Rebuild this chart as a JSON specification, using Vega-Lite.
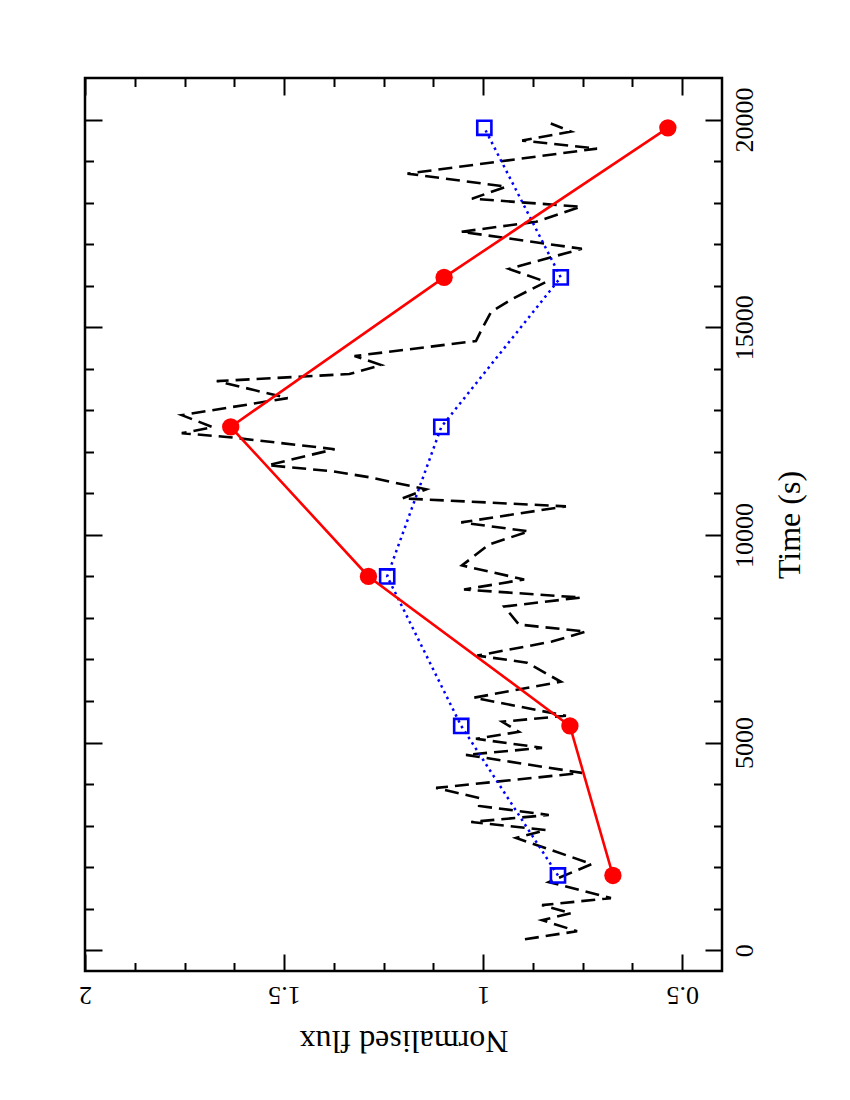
{
  "$schema": "https://vega.github.io/schema/vega-lite/v6.json",
  "width": 637,
  "height": 893,
  "autosize": {"type": "none"},
  "padding": {"left": 85, "top": 78, "right": 128, "bottom": 129},
  "background": "white",
  "config": {
    "view": {"stroke": "black", "strokeWidth": 2.5},
    "font": "Liberation Serif",
    "axis": {
      "grid": false,
      "domain": false,
      "tickColor": "black",
      "tickWidth": 2,
      "labelFont": "Liberation Serif",
      "titleFont": "Liberation Serif",
      "labelColor": "black",
      "titleColor": "black",
      "titleFontWeight": "normal",
      "labelFontSize": 26,
      "titleFontSize": 32
    }
  },
  "datasets": {
    "lightcurve": [
      {"time": 265, "flux": 0.895}, {"time": 458, "flux": 0.764}, {"time": 724, "flux": 0.852},
      {"time": 893, "flux": 0.779}, {"time": 1086, "flux": 0.852}, {"time": 1255, "flux": 0.679},
      {"time": 1640, "flux": 0.835}, {"time": 2075, "flux": 0.727}, {"time": 2702, "flux": 0.917},
      {"time": 2895, "flux": 0.842}, {"time": 3088, "flux": 1.03}, {"time": 3257, "flux": 0.835},
      {"time": 3474, "flux": 1.01}, {"time": 3667, "flux": 1.01}, {"time": 3908, "flux": 1.118},
      {"time": 4270, "flux": 0.752}, {"time": 4704, "flux": 1.043}, {"time": 4873, "flux": 0.852},
      {"time": 5090, "flux": 1.018}, {"time": 5259, "flux": 0.91}, {"time": 5501, "flux": 0.952},
      {"time": 5645, "flux": 0.792}, {"time": 6080, "flux": 1.023}, {"time": 6466, "flux": 0.805},
      {"time": 6924, "flux": 0.89}, {"time": 7093, "flux": 1.015}, {"time": 7431, "flux": 0.827},
      {"time": 7672, "flux": 0.742}, {"time": 7841, "flux": 0.91}, {"time": 8275, "flux": 0.947},
      {"time": 8492, "flux": 0.754}, {"time": 8685, "flux": 1.048}, {"time": 8926, "flux": 0.897},
      {"time": 9264, "flux": 1.053}, {"time": 9771, "flux": 0.985}, {"time": 10084, "flux": 0.885},
      {"time": 10301, "flux": 1.055}, {"time": 10687, "flux": 0.792}, {"time": 10880, "flux": 1.203},
      {"time": 11098, "flux": 1.143}, {"time": 11387, "flux": 1.286}, {"time": 11532, "flux": 1.378},
      {"time": 11677, "flux": 1.541}, {"time": 12063, "flux": 1.373}, {"time": 12352, "flux": 1.637},
      {"time": 12449, "flux": 1.757}, {"time": 12593, "flux": 1.679}, {"time": 12883, "flux": 1.757},
      {"time": 13293, "flux": 1.491}, {"time": 13703, "flux": 1.669}, {"time": 13872, "flux": 1.336},
      {"time": 14089, "flux": 1.256}, {"time": 14306, "flux": 1.323}, {"time": 14668, "flux": 1.018},
      {"time": 14958, "flux": 1.003}, {"time": 15368, "flux": 0.98}, {"time": 15681, "flux": 0.927},
      {"time": 16091, "flux": 0.842}, {"time": 16405, "flux": 0.935}, {"time": 16888, "flux": 0.752},
      {"time": 17298, "flux": 1.055}, {"time": 17539, "flux": 0.867}, {"time": 17901, "flux": 0.754},
      {"time": 18094, "flux": 1.028}, {"time": 18383, "flux": 0.942}, {"time": 18697, "flux": 1.19},
      {"time": 19300, "flux": 0.714}, {"time": 19493, "flux": 0.902}, {"time": 19710, "flux": 0.779},
      {"time": 19903, "flux": 0.83}
    ],
    "red": [
      {"time": 1800, "flux": 0.674}, {"time": 5400, "flux": 0.782}, {"time": 9000, "flux": 1.288},
      {"time": 12600, "flux": 1.634}, {"time": 16200, "flux": 1.098}, {"time": 19800, "flux": 0.536}
    ],
    "blue": [
      {"time": 1800, "flux": 0.812}, {"time": 5400, "flux": 1.055}, {"time": 9000, "flux": 1.241},
      {"time": 12600, "flux": 1.105}, {"time": 16200, "flux": 0.805}, {"time": 19800, "flux": 0.997}
    ]
  },
  "resolve": {"axis": {"x": "independent", "y": "independent"}},
  "layer": [
    {
      "data": {"name": "lightcurve"},
      "mark": {"type": "line", "color": "black", "strokeWidth": 2.6, "strokeDash": [14, 7]},
      "encoding": {
        "x": {
          "field": "flux", "type": "quantitative",
          "scale": {"domain": [0.4, 2], "reverse": true, "nice": false, "zero": false},
          "axis": {
            "orient": "bottom", "values": [0.5, 1, 1.5, 2], "format": "~g",
            "tickSize": -17, "labelPadding": 27, "labelAngle": 180,
            "labelAlign": "center", "labelBaseline": "bottom",
            "title": "Normalised flux", "titleAngle": 180, "titleBaseline": "bottom", "titlePadding": 16
          }
        },
        "y": {
          "field": "time", "type": "quantitative",
          "scale": {"domain": [-500, 21000], "nice": false, "zero": false},
          "axis": {
            "orient": "right", "values": [0, 5000, 10000, 15000, 20000], "format": "d",
            "tickSize": -17, "labelPadding": 26, "labelAngle": 270,
            "labelAlign": "center", "labelBaseline": "top",
            "title": "Time (s)", "titleAngle": 270, "titleBaseline": "top", "titlePadding": 17
          }
        },
        "order": {"field": "time", "type": "quantitative"}
      }
    },
    {
      "data": {"name": "blue"},
      "mark": {"type": "line", "color": "#0000ff", "strokeWidth": 2.5, "strokeDash": [2.5, 4]},
      "encoding": {
        "x": {
          "field": "flux", "type": "quantitative",
          "scale": {"domain": [0.4, 2], "reverse": true, "nice": false, "zero": false},
          "axis": {
            "orient": "bottom", "values": [0.625, 0.75, 0.875, 1.125, 1.25, 1.375, 1.625, 1.75, 1.875],
            "tickSize": -8.5, "labels": false, "title": null
          }
        },
        "y": {
          "field": "time", "type": "quantitative",
          "scale": {"domain": [-500, 21000], "nice": false, "zero": false},
          "axis": {
            "orient": "right",
            "values": [1000, 2000, 3000, 4000, 6000, 7000, 8000, 9000, 11000, 12000, 13000, 14000, 16000, 17000, 18000, 19000],
            "tickSize": -8.5, "labels": false, "title": null
          }
        },
        "order": {"field": "time", "type": "quantitative"}
      }
    },
    {
      "data": {"name": "blue"},
      "mark": {"type": "point", "shape": "square", "filled": false, "color": "#0000ff", "size": 200, "strokeWidth": 2.6, "opacity": 1},
      "encoding": {
        "x": {
          "field": "flux", "type": "quantitative",
          "scale": {"domain": [0.4, 2], "reverse": true, "nice": false, "zero": false},
          "axis": {"orient": "top", "values": [0.5, 1, 1.5, 2], "tickSize": -17, "labels": false, "title": null}
        },
        "y": {
          "field": "time", "type": "quantitative",
          "scale": {"domain": [-500, 21000], "nice": false, "zero": false},
          "axis": {"orient": "left", "values": [0, 5000, 10000, 15000, 20000], "tickSize": -17, "labels": false, "title": null}
        }
      }
    },
    {
      "data": {"name": "red"},
      "mark": {"type": "line", "color": "#ff0000", "strokeWidth": 2.6},
      "encoding": {
        "x": {
          "field": "flux", "type": "quantitative",
          "scale": {"domain": [0.4, 2], "reverse": true, "nice": false, "zero": false},
          "axis": {
            "orient": "top", "values": [0.625, 0.75, 0.875, 1.125, 1.25, 1.375, 1.625, 1.75, 1.875],
            "tickSize": -8.5, "labels": false, "title": null
          }
        },
        "y": {
          "field": "time", "type": "quantitative",
          "scale": {"domain": [-500, 21000], "nice": false, "zero": false},
          "axis": {
            "orient": "left",
            "values": [1000, 2000, 3000, 4000, 6000, 7000, 8000, 9000, 11000, 12000, 13000, 14000, 16000, 17000, 18000, 19000],
            "tickSize": -8.5, "labels": false, "title": null
          }
        },
        "order": {"field": "time", "type": "quantitative"}
      }
    },
    {
      "data": {"name": "red"},
      "mark": {"type": "circle", "color": "#ff0000", "size": 300, "opacity": 1},
      "encoding": {
        "x": {
          "field": "flux", "type": "quantitative",
          "scale": {"domain": [0.4, 2], "reverse": true, "nice": false, "zero": false},
          "axis": null
        },
        "y": {
          "field": "time", "type": "quantitative",
          "scale": {"domain": [-500, 21000], "nice": false, "zero": false},
          "axis": null
        }
      }
    }
  ]
}
